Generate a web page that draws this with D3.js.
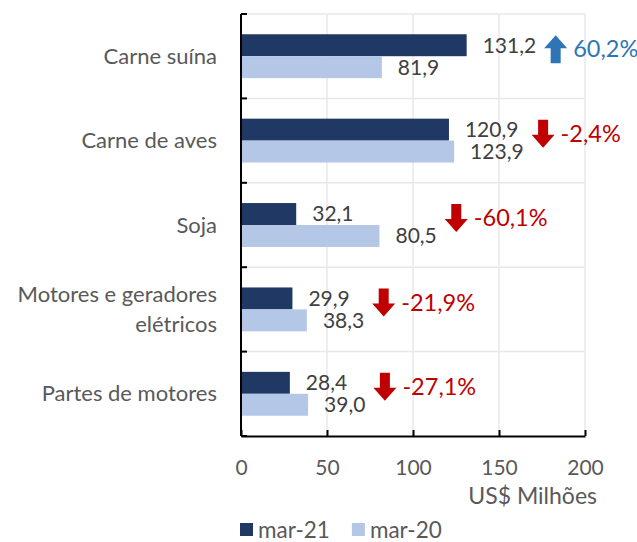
<!DOCTYPE html>
<html>
<head>
<meta charset="utf-8">
<script src="https://cdn.jsdelivr.net/npm/d3@7"></script>
<style>
  body { margin: 0; background: #fff; }
  svg { font-family: Lato, "Open Sans", sans-serif; }
</style>
</head>
<body>
<svg id="chart" width="637" height="542"></svg>
<script>
// data
const categories = ["Carne suína", "Carne de aves", "Soja", "Motores e geradores elétricos", "Partes de motores"];
const categoryLines = [["Carne suína"], ["Carne de aves"], ["Soja"], ["Motores e geradores", "elétricos"], ["Partes de motores"]];
const series = ["mar-21", "mar-20"];
const mar21 = [131.2, 120.9, 32.1, 29.9, 28.4];
const mar20 = [81.9, 123.9, 80.5, 38.3, 39.0];
const change = [60.2, -2.4, -60.1, -21.9, -27.1];
const xTicks = [0, 50, 100, 150, 200];

const colors = { "mar-21": "#203864", "mar-20": "#b4c7e7" };
const up = "#2e75b6", down = "#c00000";
const fs = 21;

const svg = d3.select("#chart");
const plotTop = 14, plotBottom = 436, plotLeft = 241, plotRight = 585;

const x = d3.scaleLinear().domain([0, 200]).range([plotLeft, plotRight]);
const y = d3.scaleBand().domain(categories).range([plotTop, plotBottom]);
const bw = y.bandwidth();
const y1 = d3.scaleBand().domain(series).range([bw * 0.24, bw * 0.76]);

const comma = v => d3.format(".1f")(v).replace(".", ",").replace("\u2212", "-");

// grid
const grid = svg.append("g");
grid.selectAll("line.v")
  .data(xTicks.slice(1))
  .enter().append("line")
  .attr("x1", d => x(d)).attr("x2", d => x(d))
  .attr("y1", plotTop).attr("y2", plotBottom)
  .attr("stroke", "#e8e8e8").attr("stroke-width", 1.5);
grid.selectAll("line.h")
  .data(categories)
  .enter().append("line")
  .attr("x1", plotLeft).attr("x2", plotRight)
  .attr("y1", d => y(d)).attr("y2", d => y(d))
  .attr("stroke", "#e8e8e8").attr("stroke-width", 1.5);

// bars
const rows = categories.map((c, i) => ({ cat: c, vals: [mar21[i], mar20[i]], chg: change[i], lines: categoryLines[i] }));

const row = svg.selectAll("g.row")
  .data(rows)
  .enter().append("g")
  .attr("transform", d => `translate(0,${y(d.cat)})`);

row.selectAll("rect")
  .data(d => d.vals.map((v, j) => ({ s: series[j], v })))
  .enter().append("rect")
  .attr("x", x(0))
  .attr("y", d => y1(d.s))
  .attr("width", d => x(d.v) - x(0))
  .attr("height", y1.bandwidth())
  .attr("fill", d => colors[d.s]);

row.selectAll("text.val")
  .data(d => d.vals.map((v, j) => ({ s: series[j], v })))
  .enter().append("text")
  .attr("class", "val")
  .attr("x", d => x(d.v) + 16)
  .attr("y", d => y1(d.s) + y1.bandwidth() / 2)
  .attr("dy", "0.35em")
  .attr("font-size", fs)
  .attr("fill", "#404040")
  .text(d => comma(d.v));

// change arrows + percentages
row.each(function (d) {
  const g = d3.select(this);
  let maxR = 0;
  g.selectAll("text.val").each(function () {
    const b = this.getBBox();
    maxR = Math.max(maxR, b.x + b.width);
  });
  const ax = maxR + 8, w = 23, h = 28, sw = 10, hh = 13;
  const cy = y1("mar-21") + y1.bandwidth() / 2 + 4;
  const pos = d.chg > 0;
  const pts = pos
    ? [[w / 2, 0], [w, hh], [(w + sw) / 2, hh], [(w + sw) / 2, h], [(w - sw) / 2, h], [(w - sw) / 2, hh], [0, hh]]
    : [[(w - sw) / 2, 0], [(w + sw) / 2, 0], [(w + sw) / 2, h - hh], [w, h - hh], [w / 2, h], [0, h - hh], [(w - sw) / 2, h - hh]];
  g.append("path")
    .attr("transform", `translate(${ax},${cy - h / 2})`)
    .attr("d", d3.line()(pts) + "Z")
    .attr("fill", pos ? up : down);
  g.append("text")
    .attr("x", ax + w + 6)
    .attr("y", cy)
    .attr("dy", "0.35em")
    .attr("font-size", 23.5)
    .attr("fill", pos ? up : down)
    .text(comma(d.chg) + "%");
});

// category labels
row.each(function (d) {
  const t = d3.select(this).append("text")
    .attr("text-anchor", "end")
    .attr("font-size", 22)
    .attr("fill", "#595959");
  const n = d.lines.length, lh = 30;
  d.lines.forEach((l, k) => {
    t.append("tspan")
      .attr("x", 217)
      .attr("y", bw / 2 + (k - (n - 1) / 2) * lh)
      .attr("dy", "0.35em")
      .text(l);
  });
});

// left axis with inside ticks at band edges
const edges = categories.map(c => y(c)).concat([plotBottom]);
svg.append("line")
  .attr("x1", plotLeft).attr("x2", plotLeft)
  .attr("y1", plotTop).attr("y2", plotBottom)
  .attr("stroke", "#000").attr("stroke-width", 2);
svg.selectAll("line.ltick")
  .data(edges)
  .enter().append("line")
  .attr("x1", plotLeft).attr("x2", plotLeft + 6)
  .attr("y1", d => d).attr("y2", d => d)
  .attr("stroke", "#000").attr("stroke-width", 2);

// bottom axis
const xAxis = svg.append("g")
  .attr("transform", `translate(0,${plotBottom})`)
  .call(d3.axisBottom(x).tickValues(xTicks).tickSizeInner(-6).tickSizeOuter(0).tickPadding(24));
xAxis.select(".domain").attr("stroke", "#000").attr("stroke-width", 2);
xAxis.selectAll(".tick line").attr("stroke", "#000").attr("stroke-width", 2);
xAxis.selectAll(".tick text")
  .attr("font-size", fs).attr("font-family", "Lato, sans-serif").attr("fill", "#595959");

svg.append("text")
  .attr("x", 597).attr("y", 496).attr("dy", "0.35em")
  .attr("text-anchor", "end")
  .attr("font-size", 23).attr("fill", "#595959")
  .text("US$ Milhões");

// legend
const leg = svg.append("g").attr("transform", "translate(240,530)");
let lx = 0;
series.forEach(s => {
  leg.append("rect").attr("x", lx).attr("y", -7).attr("width", 13).attr("height", 13).attr("fill", colors[s]);
  const t = leg.append("text")
    .attr("x", lx + 18).attr("y", 0).attr("dy", "0.35em")
    .attr("font-size", 22.5).attr("fill", "#595959")
    .text(s);
  lx += 18 + t.node().getComputedTextLength() + 22;
});
</script>
</body>
</html>
